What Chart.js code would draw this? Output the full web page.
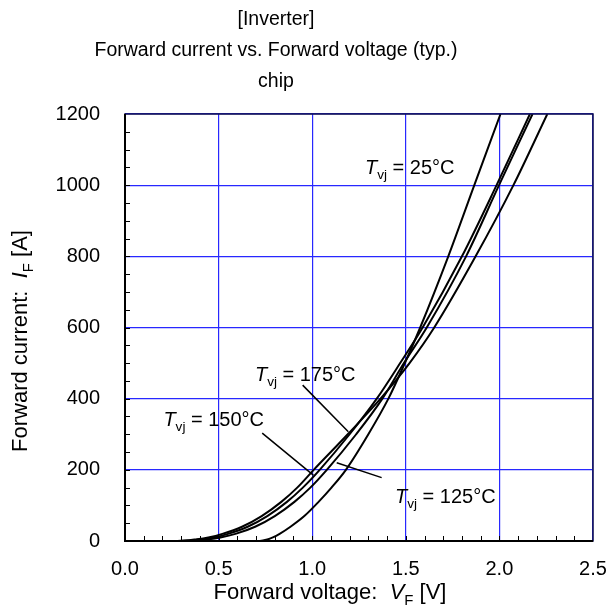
<!DOCTYPE html>
<html>
<head>
<meta charset="utf-8">
<script src="https://cdn.jsdelivr.net/npm/chart.js@4.4.1/dist/chart.umd.min.js"></script>
<style>
  html, body { margin: 0; padding: 0; background: #fff; }
  canvas { display: block; }
</style>
</head>
<body>
<canvas id="chart" width="606" height="614"></canvas>
<script>
// ===== DATA =====
const titleLines = ["[Inverter]", "Forward current vs. Forward voltage (typ.)", "chip"];

// forward current [A], shared by every curve
const currents = [0, 0, 5, 10, 20, 40, 70, 110, 150, 200, 300, 400, 500, 600, 800, 1000, 1200];
// forward voltage [V] per junction temperature
const vf25  = [0, 0.72, 0.765, 0.79, 0.826, 0.884, 0.958, 1.034, 1.103, 1.18, 1.30, 1.407, 1.495, 1.577, 1.727, 1.866, 2.006];
const vf125 = [0, 0.33, 0.45, 0.51, 0.59, 0.695, 0.80, 0.905, 0.99, 1.078, 1.235, 1.375, 1.49, 1.612, 1.822, 1.998, 2.177];
const vf150 = [0, 0.30, 0.415, 0.475, 0.55, 0.655, 0.76, 0.865, 0.95, 1.04, 1.20, 1.345, 1.47, 1.59, 1.80, 1.985, 2.163];
const vf175 = [0, 0.28, 0.385, 0.445, 0.52, 0.625, 0.73, 0.835, 0.92, 1.008, 1.19, 1.365, 1.52, 1.652, 1.873, 2.075, 2.256];

const temps = ["25", "125", "150", "175"];
const voltages = [vf25, vf125, vf150, vf175];

const FONT = '"Liberation Sans", Arial, sans-serif';
const GRID_BLUE = "rgb(40,40,255)";

// ===== RICH TEXT HELPERS =====
// parts: [text, kind]  kind: "i" italic, "s" subscript, "" normal
function setFont(ctx, kind, size) {
    ctx.font = (kind === "i" ? "italic " : "") + (kind === "s" ? size * 0.68 : size) + "px " + FONT;
}

function richWidth(ctx, parts, size) {
    let w = 0;
    parts.forEach(([text, kind]) => {
        setFont(ctx, kind, size);
        w += ctx.measureText(text).width;
    });
    return w;
}

function drawRich(ctx, parts, x, y, size) {
    let cx = x;
    ctx.textAlign = "left";
    ctx.textBaseline = "alphabetic";
    parts.forEach(([text, kind]) => {
        setFont(ctx, kind, size);
        ctx.fillText(text, cx, kind === "s" ? y + size * 0.25 : y);
        cx += ctx.measureText(text).width;
    });
}

const tvj = t => [["T", "i"], ["vj", "s"], [" = " + t + "°C", ""]];

// ===== DECORATION PLUGIN =====
const decor = {
    id: "decor",
    afterDatasetsDraw(chart) {
        const { ctx, chartArea: a, scales: { x, y } } = chart;
        ctx.save();
        ctx.fillStyle = "#000";
        ctx.strokeStyle = "#000";

        // minor ticks, inward
        ctx.lineWidth = 1;
        ctx.beginPath();
        for (let v = 1; v < 25; v++) {
            const px = Math.round(x.getPixelForValue(v / 10)) + 0.5;
            ctx.moveTo(px, a.bottom);
            ctx.lineTo(px, a.bottom - 5);
        }
        for (let v = 50; v < 1200; v += 50) {
            const py = Math.round(y.getPixelForValue(v)) + 0.5;
            ctx.moveTo(a.left, py);
            ctx.lineTo(a.left + 5, py);
        }
        ctx.stroke();

        // frame
        ctx.lineWidth = 1.5;
        ctx.strokeStyle = "#10104a";
        ctx.strokeRect(a.left, a.top, a.right - a.left, a.bottom - a.top);
        ctx.strokeStyle = "#000";
        ctx.lineWidth = 2;
        ctx.beginPath();
        ctx.moveTo(a.left, a.top);
        ctx.lineTo(a.left, a.bottom);
        ctx.lineTo(a.right, a.bottom);
        ctx.stroke();

        // leader lines
        ctx.lineWidth = 1.5;
        const leaders = [[0.949, 438, 1.193, 307], [0.733, 303, 1.006, 185], [1.371, 178, 1.131, 220]];
        ctx.beginPath();
        leaders.forEach(([v1, i1, v2, i2]) => {
            ctx.moveTo(x.getPixelForValue(v1), y.getPixelForValue(i1));
            ctx.lineTo(x.getPixelForValue(v2), y.getPixelForValue(i2));
        });
        ctx.stroke();

        // curve labels
        const labels = [["25", 1.282, 1031], ["175", 0.694, 450], ["150", 0.205, 323], ["125", 1.442, 106]];
        labels.forEach(([t, v, i]) => {
            drawRich(ctx, tvj(t), x.getPixelForValue(v), y.getPixelForValue(i), 20);
        });

        // title
        ctx.textAlign = "center";
        ctx.font = "19.5px " + FONT;
        titleLines.forEach((line, k) => ctx.fillText(line, 276, 25 + k * 31));

        // axis titles
        const xt = [["Forward voltage:  ", ""], ["V", "i"], ["F", "s"], [" [V]", ""]];
        const xw = richWidth(ctx, xt, 22);
        drawRich(ctx, xt, 330 - xw / 2, 599, 22);

        const yt = [["Forward current:  ", ""], ["I", "i"], ["F", "s"], [" [A]", ""]];
        const yw = richWidth(ctx, yt, 22);
        ctx.translate(27, 341);
        ctx.rotate(-Math.PI / 2);
        drawRich(ctx, yt, -yw / 2, 0, 22);
        ctx.restore();
    }
};

// ===== CHART =====
new Chart(document.getElementById("chart"), {
    type: "scatter",
    data: {
        datasets: temps.map((t, k) => ({
            label: "Tvj = " + t + "°C",
            data: currents.map((c, n) => ({ x: voltages[k][n], y: c })),
            showLine: true,
            borderColor: "#000",
            borderWidth: 2,
            pointRadius: 0,
            cubicInterpolationMode: "monotone"
        }))
    },
    options: {
        responsive: false,
        animation: false,
        events: [],
        layout: { padding: { top: 114, right: 13, left: 0, bottom: 0 } },
        plugins: { legend: { display: false }, title: { display: false }, tooltip: { enabled: false } },
        scales: {
            x: {
                type: "linear",
                min: 0,
                max: 2.5,
                grid: { color: GRID_BLUE, lineWidth: 1.2, drawTicks: false },
                border: { display: false },
                ticks: {
                    stepSize: 0.5,
                    padding: 16,
                    color: "#000",
                    font: { family: FONT, size: 20 },
                    callback: v => v.toFixed(1),
                    maxRotation: 0
                },
                afterFit: s => { s.height = 73; s.paddingLeft = 0; s.paddingRight = 0; }
            },
            y: {
                min: 0,
                max: 1200,
                grid: { color: GRID_BLUE, lineWidth: 1.2, drawTicks: false },
                border: { display: false },
                ticks: {
                    stepSize: 200,
                    padding: 25,
                    color: "#000",
                    font: { family: FONT, size: 20 },
                    callback: v => String(v)
                },
                afterFit: s => { s.width = 125; s.paddingTop = 0; s.paddingBottom = 0; }
            }
        }
    },
    plugins: [decor]
});
</script>
</body>
</html>
